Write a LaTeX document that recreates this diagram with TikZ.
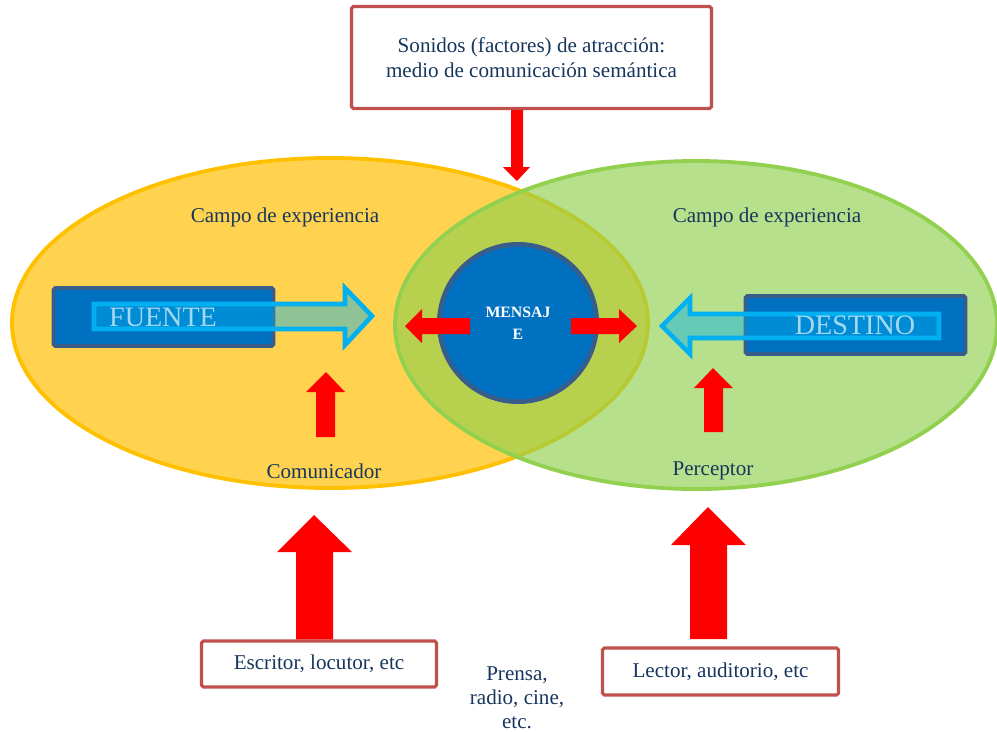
\documentclass[tikz,border=0pt]{standalone}
\usepackage{fontspec}
\setmainfont{Liberation Serif}
\usepackage{xcolor}
\definecolor{campoyellow}{HTML}{FFD34F}
\definecolor{campoyellowline}{HTML}{FFC000}
\definecolor{campogreen}{HTML}{92D050}
\definecolor{msgblue}{HTML}{0070C0}
\definecolor{slateline}{HTML}{385D8A}
\definecolor{flowcyan}{HTML}{00B0F0}
\definecolor{boxred}{HTML}{C0504D}
\definecolor{navytext}{HTML}{17365D}
\definecolor{lighttext}{HTML}{A3D8F1}

\tikzset{
  labelbox/.style={draw=boxred, line width=1.8pt, rounded corners=1pt, fill=white,
    text=navytext, align=center, inner sep=0pt, font=\fontsize{12}{14.2}\selectfont},
  sourcebox/.style={draw=slateline, line width=2.2pt, rounded corners=1pt, fill=msgblue,
    minimum width=4.4cm, minimum height=1.16cm, inner sep=0pt},
  hollowarrow/.style={draw=flowcyan, line width=2.6pt, fill=flowcyan, fill opacity=0.44},
  redarrow/.style={fill=red},
  plaintext/.style={text=navytext, inner sep=0pt, font=\fontsize{12}{14.2}\selectfont}
}

\begin{document}
\begin{tikzpicture}[x=0.02cm, y=-0.02cm]
    \useasboundingbox (0,0) rectangle (997,731);

    % Fields of experience
    \draw[campoyellowline, line width=2.2pt, fill=campoyellow] (330,323) ellipse (318 and 165);
    \draw[campogreen, line width=2.2pt, fill=campogreen, fill opacity=0.66] (696,325) ellipse (301 and 164);
    \node[plaintext] (campoA) at (285,217) {Campo de experiencia};
    \node[plaintext] (campoB) at (767,217) {Campo de experiencia};

    % Message in the overlap
    \node[circle, draw=slateline, line width=2.6pt, fill=msgblue, minimum size=3.15cm,
      text=white, font=\fontsize{9}{12.5}\selectfont\bfseries, align=center] (mensaje) at (518,323) {MENSAJ\\E};
    \fill[redarrow] (470,318) -- (422,318) -- (422,309) -- (405,326) -- (422,343) -- (422,334) -- (470,334) -- cycle;
    \fill[redarrow] (571,318) -- (619,318) -- (619,309) -- (637,326) -- (619,343) -- (619,334) -- (571,334) -- cycle;

    % Source
    \node[sourcebox] (fuente) at (163.5,317) {};
    \draw[hollowarrow] (94,304) -- (345,304) -- (345,288) -- (372,316) -- (345,345) -- (345,329) -- (94,329) -- cycle;
    \node[text=lighttext, font=\fontsize{16}{18}\selectfont] at (163,317) {FUENTE};

    % Destination
    \node[sourcebox] (destino) at (855.5,325) {};
    \draw[hollowarrow] (939,314) -- (690,314) -- (690,298) -- (662,326) -- (690,354) -- (690,338) -- (939,338) -- cycle;
    \node[text=lighttext, font=\fontsize{16}{18}\selectfont] at (855,325) {DESTINO};

    % Communicator / perceptor
    \fill[redarrow] (316,437) -- (316,392) -- (306,392) -- (326,372) -- (345,392) -- (335,392) -- (335,437) -- cycle;
    \node[plaintext] (comunicador) at (324,471) {Comunicador};
    \fill[redarrow] (704,432) -- (704,388) -- (694,388) -- (713,368) -- (733,388) -- (723,388) -- (723,432) -- cycle;
    \node[plaintext] (perceptor) at (713,471) {Perceptor};

    % Semantic channel
    \node[labelbox, minimum width=7.2cm, minimum height=2.04cm] (sonidos) at (531.5,57.5)
      {Sonidos (factores) de atracción:\\medio de comunicación semántica};
    \fill[redarrow] (sonidos.south -| 511,0) -- (511,167) -- (503,167) -- (517,181) -- (530,167) -- (523,167) -- (sonidos.south -| 523,0) -- cycle;

    % Examples below
    \node[labelbox, minimum width=4.7cm, minimum height=0.92cm] (escritor) at (319,664) {Escritor, locutor, etc};
    \fill[redarrow] (escritor.north -| 296,0) -- (296,552) -- (277,552) -- (314,515) -- (352,552) -- (333,552) -- (escritor.north -| 333,0) -- cycle;
    \node[labelbox, minimum width=4.72cm, minimum height=0.94cm] (lector) at (720.5,671.5) {Lector, auditorio, etc};
    \fill[redarrow] (690,639) -- (690,545) -- (671,545) -- (708,507) -- (746,545) -- (727,545) -- (727,639) -- cycle;
    \node[plaintext, align=center, font=\fontsize{12}{13.6}\selectfont] (medios) at (517,698) {Prensa,\\radio, cine,\\etc.};
\end{tikzpicture}
\end{document}
